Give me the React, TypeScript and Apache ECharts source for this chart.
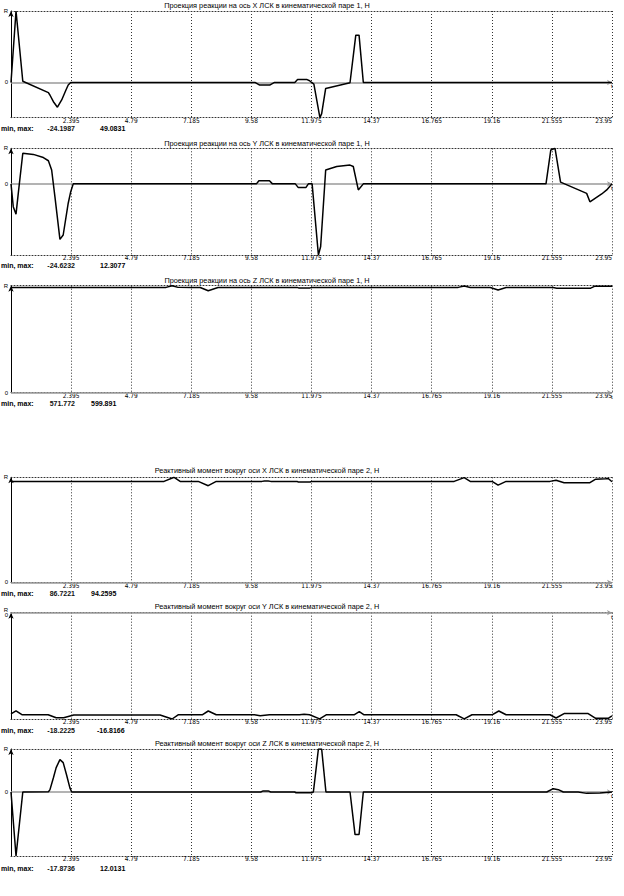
import React, { useEffect, useRef } from "react";
import * as echarts from "echarts";

// ---- data ----
const titles = [
  "Проекция реакции на ось X ЛСК в кинематической паре 1, Н",
  "Проекция реакции на ось Y ЛСК в кинематической паре 1, Н",
  "Проекция реакции на ось Z ЛСК в кинематической паре 1, Н",
  "Реактивный момент вокруг оси X ЛСК в кинематической паре 2, Н",
  "Реактивный момент вокруг оси Y ЛСК в кинематической паре 2, Н",
  "Реактивный момент вокруг оси Z ЛСК в кинематической паре 2, Н",
];
const minLabels = ["-24.1987", "-24.6232", "571.772", "86.7221", "-18.2225", "-17.8736"];
const maxLabels = ["49.0831", "12.3077", "599.891", "94.2595", "-16.8166", "12.0131"];
const yMins = [-24.1987, -24.6232, 0, 0, -18.2225, -17.8736];
const yMaxs = [49.0831, 12.3077, 599.891, 94.2595, 0, 12.0131];
const tMax = 23.95;
const tStep = 2.395;

// Panel 1: X reaction, pair 1
const xReactT = [0, 0.2, 0.47, 1.49, 1.55, 1.69, 1.85, 2.02, 2.19, 2.28, 2.38, 9.72, 9.91, 10.31, 10.5, 11.31, 11.42, 11.78, 11.9, 11.98, 12.07, 12.31, 12.38, 12.54, 13.51, 13.74, 13.87, 14.04, 23.95];
const xReactV = [0, 49.0831, 0.8, -7.0, -8.6, -13.2, -17.0, -12.0, -5.2, -1.7, 0, 0, -1.8, -1.8, 0, 0, 2.1, 2.1, 1.2, 0, -1.1, -24.1987, -21.4, -4.1, -0.2, 32.5, 32.5, 0, 0];

// Panel 2: Y reaction, pair 1
const yReactT = [0, 0.09, 0.2, 0.29, 0.47, 0.89, 1.29, 1.49, 1.62, 1.75, 1.95, 2.08, 2.28, 2.38, 2.48, 9.78, 9.88, 10.3, 10.42, 11.33, 11.45, 11.75, 11.85, 12.0, 12.25, 12.34, 12.54, 12.98, 13.51, 13.64, 13.84, 14.04, 21.32, 21.51, 21.68, 21.9, 22.94, 23.07, 23.54, 23.74, 23.95];
const yReactV = [0, -7.9, -10.5, -3.3, 10.6, 10.2, 9.1, 8.0, 4.8, -4.4, -19.2, -17.7, -6.7, -2.7, 0, 0, 1.1, 1.1, 0, 0, -1.3, -1.3, 0, 0, -24.6232, -21.7, 4.8, 6.0, 6.5, 6.0, -2.1, 0, 0, 11.7, 12.3077, 0.6, -3.3, -6.2, -3.5, -2.1, 0];

// Panel 3: Z reaction, pair 1
const zReactT = [0, 6.18, 6.42, 6.66, 7.2, 7.54, 7.86, 8.25, 8.6, 11.4, 11.46, 11.92, 11.98, 17.82, 18.06, 18.3, 19.1, 19.41, 19.73, 21.6, 21.75, 23.1, 23.25, 23.95];
const zReactV = [590.5, 590.5, 599.891, 590.5, 589.5, 589.5, 571.772, 589.5, 590.5, 590.5, 587.5, 587.5, 590.5, 590.5, 598.5, 589.5, 589.5, 575.5, 589.5, 589.5, 586, 586, 596.5, 596.5];

// Panel 4: X moment, pair 2
const xMomT = [0, 6.1, 6.5, 6.74, 7.46, 7.86, 8.18, 10.0, 10.1, 10.25, 10.35, 11.4, 11.45, 11.92, 11.98, 17.66, 18.06, 18.3, 19.17, 19.41, 19.73, 21.48, 21.72, 22.04, 23.07, 23.3, 23.7, 23.8, 23.95];
const xMomV = [90.6, 90.6, 94.2595, 90.6, 90.6, 86.7221, 90.6, 90.6, 91.0, 91.0, 90.6, 90.6, 90.0, 90.0, 90.6, 90.6, 94.0, 90.6, 90.6, 87.2, 90.6, 90.6, 91.6, 89.4, 89.4, 92.6, 93.0, 93.2, 90.3];

// Panel 5: Y moment, pair 2
const yMomT = [0, 0.2, 0.45, 1.48, 1.8, 2.1, 2.5, 5.94, 6.42, 6.66, 7.62, 7.86, 8.18, 9.7, 9.93, 10.3, 11.5, 11.68, 11.9, 12.3, 12.56, 13.67, 13.88, 14.07, 17.74, 18.06, 18.37, 19.17, 19.44, 19.73, 21.48, 21.72, 22.04, 23.0, 23.3, 23.8, 23.95];
const yMomV = [-17.35, -16.8166, -17.5, -17.5, -18.0, -18.0, -17.55, -17.55, -18.2225, -17.5, -17.5, -16.85, -17.5, -17.5, -17.65, -17.5, -17.5, -17.42, -17.5, -18.2, -17.5, -17.5, -16.95, -17.5, -17.5, -18.2, -17.5, -17.5, -16.85, -17.5, -17.5, -18.05, -17.3, -17.3, -18.1, -18.1, -17.7];

// Panel 6: Z moment, pair 2
const zMomT = [0, 0.2, 0.47, 1.49, 1.55, 1.69, 1.8, 1.95, 2.08, 2.21, 2.35, 2.42, 9.95, 10.05, 10.25, 10.35, 11.3, 11.36, 11.98, 12.05, 12.25, 12.38, 12.55, 13.51, 13.71, 13.87, 14.04, 21.35, 21.61, 21.81, 22.01, 22.6, 22.94, 23.47, 23.95];
const zMomV = [0, -17.8736, 0, 0.1, 0.6, 4.0, 6.8, 9.05, 8.2, 4.9, 1.1, 0, 0, 0.3, 0.3, 0, 0, -0.2, -0.2, 0, 12.0131, 12.0131, 0, 0, -11.88, -11.88, 0, 0, 0.94, 0.66, 0, 0, -0.38, -0.28, 0];

const seriesT = [xReactT, yReactT, zReactT, xMomT, yMomT, zMomT];
const seriesV = [xReactV, yReactV, zReactV, xMomV, yMomV, zMomV];

// ---- layout ----
const GRID_LEFT = 11;
const GRID_WIDTH = 601;
const panelTops = [11, 148.3, 285.7, 477.3, 612.7, 749];
const panelBottoms = [117.7, 255, 392.7, 582.3, 719, 856];
const titleYs = [5.5, 143.5, 280.5, 470, 606, 743];
const minMaxYs = [128.3, 265.6, 403.6, 593.3, 730.7, 868.3];
const maxXs = [100, 100, 91, 91, 97, 100];

const tickFont = "'Liberation Sans Narrow', 'DejaVu Sans Condensed', 'Liberation Sans', Arial, sans-serif";
const textFont = "'Liberation Sans', Arial, sans-serif";
const DOT = [1, 2];

const fmt = (v: number) => String(Math.round(v * 1000) / 1000);

export default function App() {
  const ref = useRef<HTMLDivElement>(null);
  useEffect(() => {
    if (!ref.current) return;
    const chart = echarts.init(ref.current, undefined, { renderer: "svg" });

    const grid: any[] = [];
    const xAxis: any[] = [];
    const yAxis: any[] = [];
    const series: any[] = [];
    const graphic: any[] = [];

    for (let i = 0; i < 6; i++) {
      grid.push({
        left: GRID_LEFT,
        width: GRID_WIDTH,
        top: panelTops[i],
        height: panelBottoms[i] - panelTops[i],
        containLabel: false,
      });
      // bottom axis with labels and dotted vertical grid
      xAxis.push({
        type: "value",
        gridIndex: i,
        position: "bottom",
        min: 0,
        max: tMax,
        interval: tStep,
        axisLine: { show: true, onZero: false, lineStyle: { color: "#333", width: 1, type: DOT } },
        axisTick: { show: false },
        axisLabel: {
          show: true,
          margin: 0,
          fontSize: 6.5,
          lineHeight: 6.5,
          fontFamily: tickFont,
          color: "#000",
          showMinLabel: false,
          showMaxLabel: true,
          alignMaxLabel: "right",
          formatter: (v: number) => fmt(v),
        },
        splitLine: { show: true, lineStyle: { color: "#333", width: 1, type: DOT } },
      });
      // top border
      xAxis.push({
        type: "value",
        gridIndex: i,
        position: "top",
        min: 0,
        max: tMax,
        axisLine: { show: true, onZero: false, lineStyle: { color: "#333", width: 1, type: DOT } },
        axisTick: { show: false },
        axisLabel: { show: false },
        splitLine: { show: false },
      });
      const ymin = yMins[i];
      const ymax = yMaxs[i];
      const custom = ymax === 0 ? [0] : [ymax, 0];
      yAxis.push({
        type: "value",
        gridIndex: i,
        min: ymin,
        max: ymax,
        axisLine: {
          show: true,
          onZero: false,
          symbol: ["none", "arrow"],
          symbolSize: [4, 6],
          lineStyle: { color: "#000", width: 1 },
        },
        axisTick: { show: false },
        splitLine: { show: false },
        axisLabel: {
          show: true,
          customValues: custom,
          showMinLabel: true,
          showMaxLabel: true,
          margin: 3,
          fontSize: 6,
          lineHeight: 5,
          fontFamily: textFont,
          color: "#000",
          formatter: (v: number) => (ymax === 0 ? "R\n0" : v === 0 ? "0" : "R"),
        },
      });

      // gray zero line with arrow and "t"
      series.push({
        type: "line",
        xAxisIndex: 2 * i,
        yAxisIndex: i,
        data: [[0, 0], [tMax, 0]],
        showSymbol: false,
        silent: true,
        z: 1,
        lineStyle: { opacity: 0 },
        markLine: {
          silent: true,
          symbol: ["none", "arrow"],
          symbolSize: [4, 5],
          lineStyle: { color: "#9a9a9a", width: 1.5, type: "solid" },
          label: {
            show: true,
            position: "end",
            formatter: "t",
            fontSize: 6,
            distance: 1,
            offset: [-2, 4],
            color: "#000",
            fontFamily: textFont,
          },
          data: [{ yAxis: 0 }],
        },
      });

      const data = seriesT[i].map((t, k) => [t, seriesV[i][k]]);
      series.push({
        type: "line",
        xAxisIndex: 2 * i,
        yAxisIndex: i,
        data,
        showSymbol: false,
        z: 5,
        lineStyle: { color: "#000", width: 1.5 },
      });

      graphic.push({
        type: "text",
        x: 267,
        y: titleYs[i],
        style: {
          text: titles[i],
          fontSize: 7.3,
          fontFamily: textFont,
          fill: "#000",
          textAlign: "center",
          textVerticalAlign: "middle",
        },
      });
      graphic.push({
        type: "text",
        x: 1,
        y: minMaxYs[i],
        style: {
          text: "min, max:",
          fontSize: 7,
          lineHeight: 7,
          fontWeight: "bold",
          fontFamily: textFont,
          fill: "#000",
          textAlign: "left",
          textVerticalAlign: "middle",
        },
      });
      graphic.push({
        type: "text",
        x: 75,
        y: minMaxYs[i],
        style: {
          text: minLabels[i],
          fontSize: 7,
          lineHeight: 7,
          fontWeight: "bold",
          fontFamily: textFont,
          fill: "#111",
          textAlign: "right",
          textVerticalAlign: "middle",
        },
      });
      graphic.push({
        type: "text",
        x: maxXs[i],
        y: minMaxYs[i],
        style: {
          text: maxLabels[i],
          fontSize: 7,
          lineHeight: 7,
          fontWeight: "bold",
          fontFamily: textFont,
          fill: "#000",
          textAlign: "left",
          textVerticalAlign: "middle",
        },
      });
    }

    chart.setOption({
      animation: false,
      backgroundColor: "#fff",
      grid,
      xAxis,
      yAxis,
      series,
      graphic,
    });
    return () => chart.dispose();
  }, []);

  return (
    <div
      ref={ref}
      style={{ position: "fixed", left: 0, top: 0, width: 624, height: 896, background: "#fff" }}
    />
  );
}
